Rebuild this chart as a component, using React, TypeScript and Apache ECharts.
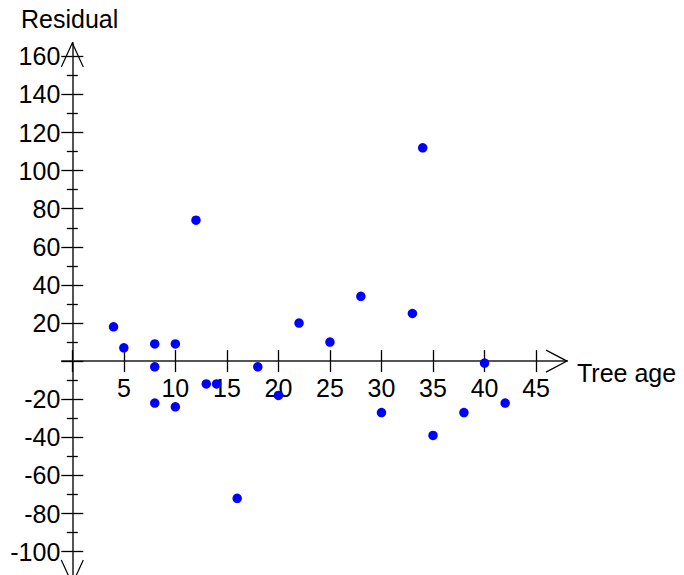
import React, { useEffect, useRef } from "react";
import * as echarts from "echarts";

const treeAge = [4, 5, 8, 8, 8, 10, 10, 12, 13, 14, 16, 18, 20, 22, 25, 28, 30, 33, 34, 35, 38, 40, 42];
const residual = [18, 7, 9, -3, -22, 9, -24, 74, -12, -12, -72, -3, -18, 20, 10, 34, -27, 25, 112, -39, -27, -1, -22];

const xTickValues = [0, 5, 10, 15, 20, 25, 30, 35, 40, 45];
const xLabelValues = [5, 10, 15, 20, 25, 30, 35, 40, 45];
const yMajorValues = [-100, -80, -60, -40, -20, 0, 20, 40, 60, 80, 100, 120, 140, 160];
const yLabelValues = [-100, -80, -60, -40, -20, 20, 40, 60, 80, 100, 120, 140, 160];
const yMinorValues = [-90, -70, -50, -30, -10, 10, 30, 50, 70, 90, 110, 130, 150];

const X_MIN = -1;
const X_MAX = 48;
const Y_MIN = -117;
const Y_MAX = 167;

const FONT = "'Liberation Sans', Arial, sans-serif";
const AXIS_COLOR = "#555";
const FONT_SIZE = 25;
const X_LABEL_GAP = 14;
const Y_LABEL_GAP = 12;

function xAxisDef(inside: boolean, main: boolean) {
  return {
    type: "value",
    position: "bottom",
    min: X_MIN,
    max: X_MAX,
    axisLine: { show: true, onZero: true, onZeroAxisIndex: 0, lineStyle: { color: AXIS_COLOR, width: 2, opacity: main ? 1 : 0 } },
    axisTick: { show: true, inside, length: 11, customValues: xTickValues, lineStyle: { color: "#000", width: 1.3 } },
    axisLabel: {
      show: main,
      customValues: xLabelValues,
      margin: X_LABEL_GAP,
      color: "#000",
      fontSize: FONT_SIZE,
      fontFamily: FONT,
    },
    splitLine: { show: false },
  };
}

function yAxisDef(inside: boolean, main: boolean, values: number[], len: number) {
  return {
    type: "value",
    position: "left",
    min: Y_MIN,
    max: Y_MAX,
    axisLine: { show: true, onZero: true, onZeroAxisIndex: 0, lineStyle: { color: AXIS_COLOR, width: 2, opacity: main ? 1 : 0 } },
    axisTick: { show: true, inside, length: len, customValues: values, lineStyle: { color: "#000", width: 1.3 } },
    axisLabel: {
      show: main,
      customValues: yLabelValues,
      margin: Y_LABEL_GAP,
      color: "#000",
      fontSize: FONT_SIZE,
      fontFamily: FONT,
    },
    splitLine: { show: false },
  };
}

export default function App() {
  const ref = useRef<HTMLDivElement>(null);
  useEffect(() => {
    if (!ref.current) return;
    const chart = echarts.init(ref.current, undefined, { renderer: "svg" });
    chart.setOption({
      animation: false,
      backgroundColor: "#fff",
      grid: { left: 62, right: 117, top: 43, bottom: -9, containLabel: false, outerBoundsMode: "none" },
      xAxis: [xAxisDef(false, true), xAxisDef(true, false)],
      yAxis: [
        yAxisDef(false, true, yMajorValues, 11),
        yAxisDef(true, false, yMajorValues, 11),
        yAxisDef(false, false, yMinorValues, 5.5),
        yAxisDef(true, false, yMinorValues, 5.5),
      ],
      series: [
        {
          type: "scatter",
          xAxisIndex: 0,
          yAxisIndex: 0,
          data: treeAge.map((x, i) => [x, residual[i]]),
          symbolSize: 9.5,
          itemStyle: { color: "#0000ff", opacity: 1 },
          z: 5,
        },
      ],
    });

    const origin = chart.convertToPixel({ gridIndex: 0 }, [0, 0]) as number[];
    const corner = chart.convertToPixel({ gridIndex: 0 }, [X_MIN, Y_MIN]) as number[];
    const xTip = chart.convertToPixel({ gridIndex: 0 }, [X_MAX, 0]) as number[];
    const yTop = chart.convertToPixel({ gridIndex: 0 }, [0, Y_MAX]) as number[];
    const yBot = chart.convertToPixel({ gridIndex: 0 }, [0, Y_MIN]) as number[];
    const arrowStyle = { stroke: "#000", lineWidth: 1.2, fill: null };
    chart.setOption({
      xAxis: [{ axisLabel: { margin: X_LABEL_GAP - (corner[1] - origin[1]) } }],
      yAxis: [{ axisLabel: { margin: Y_LABEL_GAP - (origin[0] - corner[0]) } }],
      graphic: [
        {
          type: "polyline",
          shape: { points: [[xTip[0] - 21, xTip[1] - 11], [xTip[0], xTip[1]], [xTip[0] - 21, xTip[1] + 11]] },
          style: arrowStyle,
          z: 10,
        },
        {
          type: "polyline",
          shape: { points: [[yTop[0] - 11, yTop[1] + 24], [yTop[0], yTop[1]], [yTop[0] + 11, yTop[1] + 24]] },
          style: arrowStyle,
          z: 10,
        },
        {
          type: "polyline",
          shape: { points: [[yBot[0] - 11, yBot[1] - 24], [yBot[0], yBot[1]], [yBot[0] + 11, yBot[1] - 24]] },
          style: arrowStyle,
          z: 10,
        },
        {
          type: "text",
          left: 21,
          top: 6,
          style: { text: "Residual", font: `${FONT_SIZE}px ${FONT}`, fill: "#000" },
        },
        {
          type: "text",
          left: 577,
          top: 360,
          style: { text: "Tree age", font: `${FONT_SIZE}px ${FONT}`, fill: "#000" },
        },
      ],
    });
    return () => chart.dispose();
  }, []);
  return <div ref={ref} style={{ position: "absolute", left: 0, top: 0, width: 684, height: 575 }} />;
}
